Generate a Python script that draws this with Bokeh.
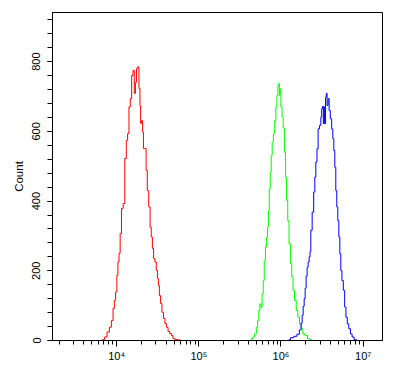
from bokeh.plotting import figure
from bokeh.models import FixedTicker, Range1d
from bokeh.embed import file_html
from bokeh.resources import INLINE
import numpy as np

# log10 fluorescence intensity (bin positions) and counts
red_log = [3.806, 3.842, 3.866, 3.899, 3.923, 3.948, 3.964, 3.979, 3.996, 4.009,
           4.021, 4.036, 4.049, 4.069, 4.089, 4.109, 4.125, 4.142, 4.158, 4.174,
           4.191, 4.207, 4.222, 4.235, 4.247, 4.264, 4.279, 4.288, 4.295, 4.312,
           4.320, 4.332, 4.352, 4.365, 4.380, 4.401, 4.413, 4.429, 4.441, 4.458,
           4.474, 4.490, 4.502, 4.514, 4.526, 4.543, 4.559, 4.580, 4.595, 4.616,
           4.635, 4.656, 4.677, 4.693, 4.717, 4.757, 4.790]
red_count = [0, 2, 10, 24, 38, 57, 92, 115, 139, 187,
             225, 250, 307, 379, 393, 522, 574, 594, 670, 694,
             760, 775, 709, 741, 780, 785, 723, 674, 623, 631,
             598, 551, 551, 488, 430, 383, 325, 297, 264, 235,
             225, 201, 178, 158, 129, 106, 81, 63, 49, 38,
             26, 20, 14, 6, 3, 2, 0]

green_log = [5.628, 5.649, 5.668, 5.689, 5.710, 5.722, 5.738, 5.750, 5.762, 5.778,
             5.790, 5.802, 5.819, 5.831, 5.843, 5.851, 5.863, 5.875, 5.887, 5.899,
             5.916, 5.932, 5.944, 5.956, 5.968, 5.977, 5.984, 5.993, 6.005, 6.021,
             6.033, 6.050, 6.062, 6.074, 6.090, 6.106, 6.123, 6.139, 6.154, 6.175,
             6.196, 6.215, 6.236, 6.256, 6.276, 6.309, 6.337, 6.366, 6.382]
green_count = [0, 5, 10, 19, 38, 57, 86, 105, 96, 134,
               172, 230, 268, 297, 325, 373, 435, 483, 531, 569,
               593, 631, 670, 703, 732, 737, 703, 722, 670, 641,
               610, 540, 469, 402, 344, 278, 221, 182, 144, 115,
               86, 67, 48, 34, 19, 14, 5, 2, 0]

blue_log = [6.094, 6.139, 6.175, 6.211, 6.236, 6.252, 6.264, 6.276, 6.288, 6.300,
            6.312, 6.324, 6.337, 6.349, 6.357, 6.369, 6.390, 6.406, 6.418, 6.430,
            6.446, 6.458, 6.479, 6.491, 6.499, 6.512, 6.519, 6.527, 6.536, 6.548,
            6.555, 6.567, 6.580, 6.592, 6.609, 6.625, 6.637, 6.649, 6.661, 6.673,
            6.685, 6.698, 6.710, 6.722, 6.734, 6.750, 6.767, 6.783, 6.798, 6.815,
            6.835, 6.855, 6.876, 6.904, 6.940]
blue_count = [2, 8, 12, 18, 30, 50, 72, 98, 120, 150,
              185, 210, 225, 240, 255, 316, 368, 426, 469, 512,
              550, 607, 617, 641, 665, 672, 622, 670, 622, 698,
              709, 674, 694, 660, 636, 607, 579, 545, 497, 430,
              383, 344, 297, 249, 201, 172, 144, 96, 67, 48,
              34, 19, 10, 2, 0]

x_major = [1e4, 1e5, 1e6, 1e7]
x_labels = ["10\u2074", "10\u2075", "10\u2076", "10\u2077"]
y_major = [0, 200, 400, 600, 800]

FONT = "Liberation Sans"

p = figure(width=394, height=364, x_axis_type="log",
           x_range=Range1d(1656, 1.72e7), y_range=Range1d(0, 941),
           output_backend="svg", toolbar_location=None,
           min_border_left=52, min_border_top=12, min_border_right=12,
           min_border_bottom=24)

p.step(10 ** np.array(red_log), red_count, mode="center", line_color="#ff0000", line_width=1)
p.step(10 ** np.array(green_log), green_count, mode="center", line_color="#00ff00", line_width=1)
p.step(10 ** np.array(blue_log), blue_count, mode="center", line_color="#0000ff", line_width=1)

p.grid.visible = False
p.outline_line_color = "black"
p.outline_line_width = 1
p.background_fill_color = "white"
p.border_fill_color = "white"

x_minor = [k * 10 ** n for n in range(3, 7) for k in range(2, 10)]
p.xaxis.ticker = FixedTicker(ticks=x_major, minor_ticks=x_minor)
p.xaxis.major_label_overrides = {v: lab for v, lab in zip(x_major, x_labels)}
p.xaxis.major_tick_out = 6
p.xaxis.minor_tick_out = 4
p.xaxis.major_tick_in = 0
p.xaxis.minor_tick_in = 0
p.xaxis.major_label_standoff = 3

p.yaxis.ticker = FixedTicker(ticks=y_major, minor_ticks=list(range(0, 941, 40)))
p.yaxis.major_label_orientation = "vertical"
p.yaxis.major_tick_out = 5
p.yaxis.minor_tick_out = 5
p.yaxis.major_tick_in = 0
p.yaxis.minor_tick_in = 0
p.yaxis.major_label_standoff = 7
p.yaxis.axis_label = "Count"
p.yaxis.axis_label_standoff = 5

for ax in (p.xaxis[0], p.yaxis[0]):
    ax.axis_line_color = "black"
    ax.major_tick_line_color = "black"
    ax.minor_tick_line_color = "black"
    ax.major_label_text_font = FONT
    ax.major_label_text_font_size = "11px"
    ax.major_label_text_color = "black"
    ax.axis_label_text_font = FONT
    ax.axis_label_text_font_size = "11.5px"
    ax.axis_label_text_font_style = "normal"
    ax.axis_label_text_color = "black"

open("out.html", "w").write(file_html(p, INLINE))
